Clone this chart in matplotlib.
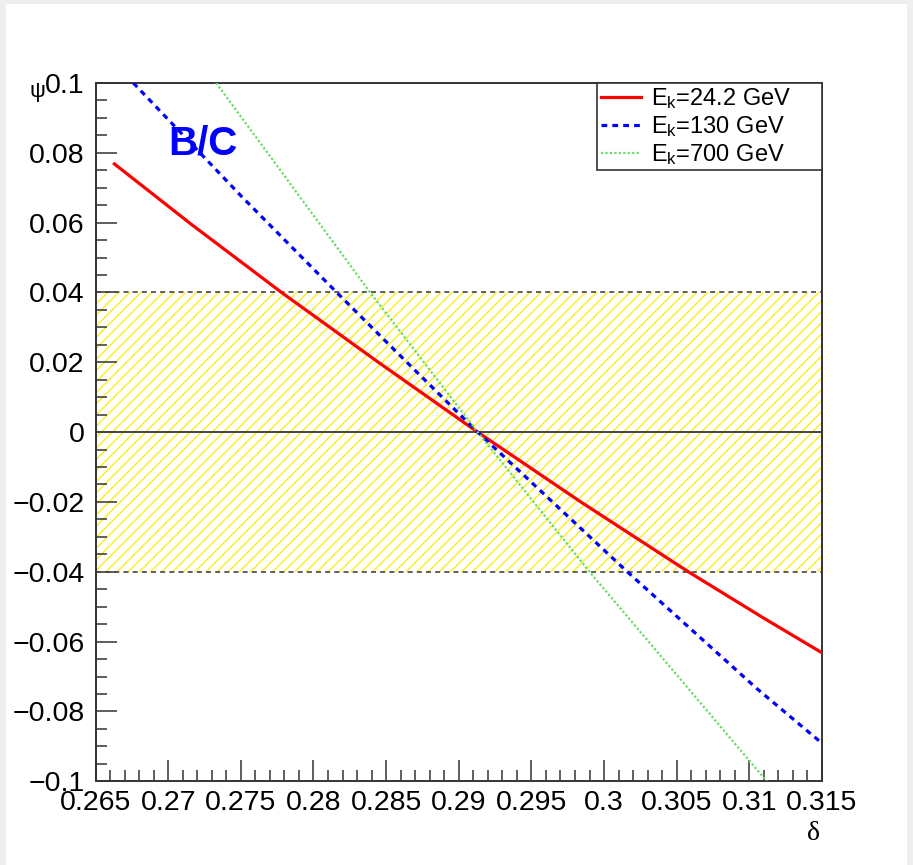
import matplotlib
matplotlib.use("Agg")
import matplotlib.pyplot as plt
from matplotlib.patches import Rectangle
from matplotlib.ticker import MultipleLocator, FuncFormatter

plt.rcParams["font.family"] = ["Liberation Sans", "DejaVu Sans"]
plt.rcParams["mathtext.fontset"] = "custom"
plt.rcParams["mathtext.rm"] = "Liberation Sans"
plt.rcParams["mathtext.it"] = "Liberation Sans"
plt.rcParams["mathtext.default"] = "rm"
plt.rcParams["hatch.linewidth"] = 1.0

# curves (delta, psi)
delta_24 = [0.2663, 0.2715, 0.2778, 0.2844, 0.2913, 0.2984, 0.3058, 0.3110, 0.3150]
psi_24 = [0.0768, 0.0598, 0.0400, 0.0202, 0.0, -0.0200, -0.0400, -0.0533, -0.0632]

delta_130 = [0.2676, 0.2750, 0.2816, 0.2857, 0.2913, 0.3016, 0.3105, 0.3150]
psi_130 = [0.1000, 0.0677, 0.0400, 0.0230, 0.0, -0.0400, -0.0734, -0.0891]

delta_700 = [0.2733, 0.2839, 0.2913, 0.2990, 0.3112]
psi_700 = [0.1000, 0.0400, 0.0, -0.0400, -0.1000]

labels = ["E$_{k}$=24.2 GeV", "E$_{k}$=130 GeV", "E$_{k}$=700 GeV"]
band = (-0.04, 0.04)
x_range = (0.265, 0.315)
y_range = (-0.1, 0.1)

fig = plt.figure(figsize=(9.13, 8.65), dpi=100, facecolor="#efefef")
fig.patches.append(Rectangle((6 / 913, 0), 901 / 913, 1 - 4 / 865, transform=fig.transFigure,
                             facecolor="white", edgecolor="none", zorder=-10))
ax = fig.add_axes([95.5 / 913, 83.7 / 865, 726.5 / 913, 698.4 / 865])
ax.set_zorder(1)
ax.set_xlim(*x_range)
ax.set_ylim(*y_range)

ax.fill_between(x_range, band[0], band[1], facecolor="none", edgecolor="#fbee1a",
                hatch="///", linewidth=0, zorder=1)
for yv in band:
    ax.axhline(yv, color="#444444", linestyle=(0, (3, 2.5)), linewidth=1.2, zorder=2)
ax.axhline(0, color="#444444", linewidth=1.4, zorder=2)

ax.plot(delta_24, psi_24, color="#ff0000", linewidth=2.3, label=labels[0], zorder=4)
ax.plot(delta_130, psi_130, color="#0000ff", linewidth=2.3, linestyle=(0, (1.8, 1.6)),
        label=labels[1], zorder=4)
ax.plot(delta_700, psi_700, color="#66dd66", linewidth=1.6, linestyle=(0, (1, 1)),
        label=labels[2], zorder=4)

ax.text(0.27, 0.0795, "B/C", color="#0000ff", fontsize=29, fontweight="bold", zorder=5)


def tick_label(v, pos):
    s = f"{round(v, 4) + 0.0:g}"
    return "0" if s in ("0", "-0") else s.replace("-", "\u2212")


fmt = FuncFormatter(tick_label)
ax.xaxis.set_major_locator(MultipleLocator(0.005))
ax.xaxis.set_minor_locator(MultipleLocator(0.001))
ax.yaxis.set_major_locator(MultipleLocator(0.02))
ax.yaxis.set_minor_locator(MultipleLocator(0.005))
ax.xaxis.set_major_formatter(fmt)
ax.yaxis.set_major_formatter(fmt)
ax.tick_params(which="both", direction="in", top=False, right=False, color="#333333",
               labelsize=20.5, width=1.1)
ax.tick_params(which="major", length=15)
ax.tick_params(which="minor", length=8)
ax.tick_params(axis="x", pad=6)
ax.tick_params(axis="y", pad=8)
for s in ax.spines.values():
    s.set_color("#333333")
    s.set_linewidth(1.4)

leg_x0 = (597 - 95.5) / 726.5
leg = ax.legend(loc="upper left", bbox_to_anchor=(leg_x0, 0, 1 - leg_x0, 1), mode="expand",
                borderaxespad=0, fancybox=False, edgecolor="#333333", framealpha=1,
                fontsize=17, handlelength=1.7, handletextpad=0.45, labelspacing=0.12,
                borderpad=0.15)
leg.get_frame().set_linewidth(1.2)

fig.text(37 / 913, 1 - 92 / 865, "\u03c8", fontsize=16, ha="center", va="center")
fig.text(813 / 913, 1 - 833 / 865, "\u03b4", fontsize=20, ha="center", va="center",
         family=["Liberation Serif", "DejaVu Serif"])

fig.savefig("out.png", dpi=100, facecolor=fig.get_facecolor())
